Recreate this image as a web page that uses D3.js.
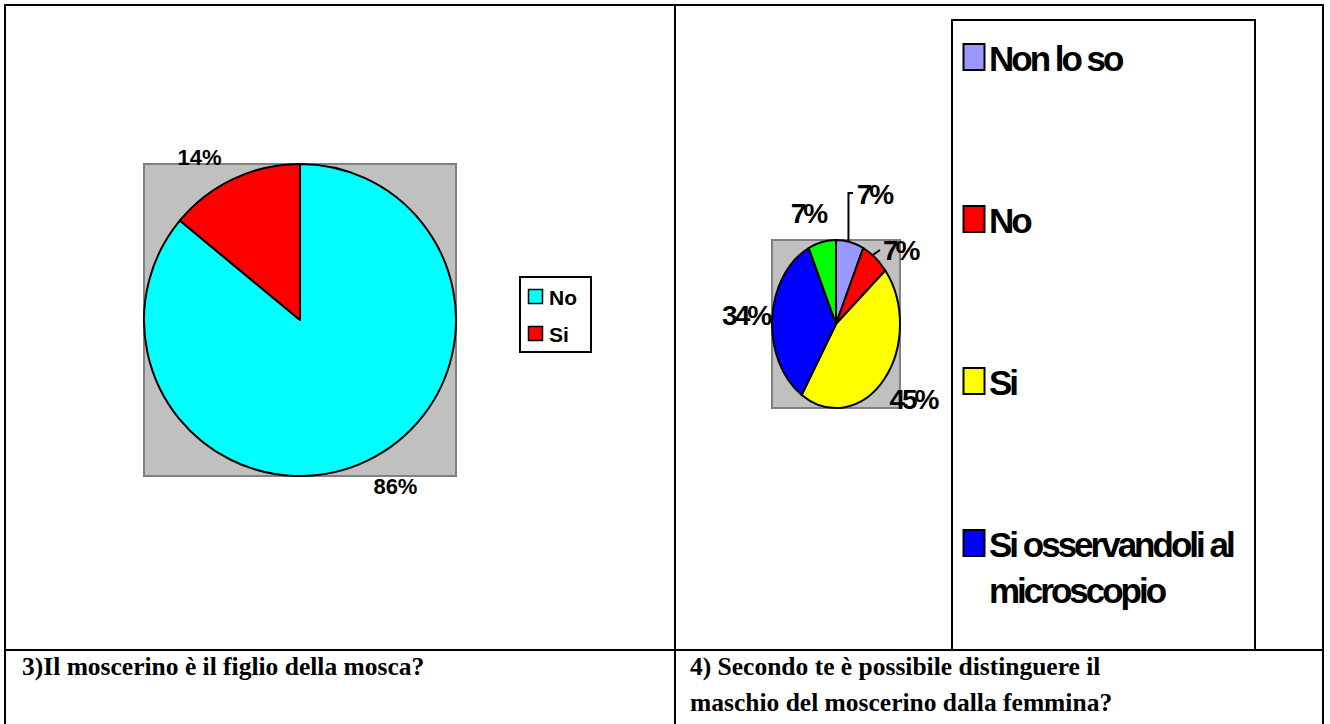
<!DOCTYPE html>
<html>
<head>
<meta charset="utf-8">
<script src="https://cdn.jsdelivr.net/npm/d3@7"></script>
<style>
  html, body { margin: 0; padding: 0; background: #fff; }
  svg { display: block; }
</style>
</head>
<body>
<svg id="chart" width="1330" height="724"></svg>
<script>
// ---------------- DATA ----------------
const q3Categories = ["No", "Si"];
const q3Values = [86, 14];
const q3Colors = ["#00FFFF", "#FF0000"];
const q3Caption = ["3)Il moscerino è il figlio della mosca?"];

const q4Categories = ["Non lo so", "No", "Si", "Si osservandoli al microscopio", ""];
const q4LegendLines = [["Non lo so"], ["No"], ["Si"], ["Si osservandoli al", "microscopio"]];
const q4Values = [7, 7, 45, 34, 7];
const q4Colors = ["#9999FF", "#FF0000", "#FFFF00", "#0000FF", "#00FF00"];
const q4Caption = ["4) Secondo te è possibile distinguere il", "maschio del moscerino dalla femmina?"];

// ---------------- LAYOUT ----------------
const svg = d3.select("#chart");
const W = 1330, H = 724;
svg.append("rect").attr("width", W).attr("height", H).attr("fill", "#fff");

const sans = "'Liberation Sans', Arial, sans-serif";
const serif = "'Liberation Serif', 'Times New Roman', serif";

const pie = d3.pie().sort(null).value(d => d);

// ===== Chart 1 =====
const c1 = { cx: 300, cy: 320, r: 156 };
const g1 = svg.append("g");
g1.append("rect")
  .attr("x", c1.cx - c1.r).attr("y", c1.cy - c1.r)
  .attr("width", c1.r * 2).attr("height", c1.r * 2)
  .attr("fill", "#C0C0C0").attr("stroke", "#808080").attr("stroke-width", 2);

const arc1 = d3.arc().innerRadius(0).outerRadius(c1.r);
const arcs1 = pie(q3Values);
g1.append("g").attr("transform", `translate(${c1.cx},${c1.cy})`)
  .selectAll("path").data(arcs1).join("path")
  .attr("d", arc1)
  .attr("fill", (d, i) => q3Colors[i])
  .attr("stroke", "#000").attr("stroke-width", 2).attr("stroke-linejoin", "round");

// label anchors (relative offsets from the slice's outer mid point)
const c1LabelOffsets = [[29, 33], [-34, -14]];
const labArc1 = d3.arc().innerRadius(c1.r).outerRadius(c1.r);
g1.selectAll("text.lab").data(arcs1).join("text")
  .attr("class", "lab")
  .attr("x", (d, i) => c1.cx + labArc1.centroid(d)[0] + c1LabelOffsets[i][0])
  .attr("y", (d, i) => c1.cy + labArc1.centroid(d)[1] + c1LabelOffsets[i][1])
  .attr("text-anchor", "middle")
  .attr("font-family", sans).attr("font-weight", "bold").attr("font-size", 22)
  .text(d => d.data + "%");

// legend 1
const lg1 = svg.append("g");
lg1.append("rect").attr("x", 520).attr("y", 277).attr("width", 71).attr("height", 75)
  .attr("fill", "#fff").attr("stroke", "#000").attr("stroke-width", 2);
q3Categories.forEach((c, i) => {
  const by = 305 + i * 37;
  lg1.append("rect").attr("x", 528.5).attr("y", by - 15.5).attr("width", 14).attr("height", 14)
    .attr("fill", q3Colors[i]).attr("stroke", "#000").attr("stroke-width", 1.5);
  lg1.append("text").attr("x", 549).attr("y", by)
    .attr("font-family", sans).attr("font-weight", "bold").attr("font-size", 21)
    .text(c);
});

// ===== Chart 2 =====
const c2 = { cx: 836, cy: 324, rx: 64, ry: 84 };
const g2 = svg.append("g");
g2.append("rect")
  .attr("x", c2.cx - c2.rx).attr("y", c2.cy - c2.ry)
  .attr("width", c2.rx * 2).attr("height", c2.ry * 2)
  .attr("fill", "#C0C0C0").attr("stroke", "#808080").attr("stroke-width", 2);

const arc2 = d3.arc().innerRadius(0).outerRadius(c2.ry);
const arcs2 = pie(q4Values);
g2.append("g").attr("transform", `translate(${c2.cx},${c2.cy}) scale(${c2.rx / c2.ry},1)`)
  .selectAll("path").data(arcs2).join("path")
  .attr("d", arc2)
  .attr("fill", (d, i) => q4Colors[i])
  .attr("stroke", "#000").attr("stroke-width", 2).attr("stroke-linejoin", "round")
  .attr("vector-effect", "non-scaling-stroke");

// point on ellipse edge at the slice mid angle
function edgePoint(d) {
  const a = (d.startAngle + d.endAngle) / 2;
  return [c2.cx + c2.rx * Math.sin(a), c2.cy - c2.ry * Math.cos(a)];
}
// label positions relative to edge point
const c2LabelOffsets = [[24, -38], [25, 2.5], [29, 29], [-26.5, 6.5], [-14, -19]];
arcs2.forEach((d, i) => {
  const p = edgePoint(d);
  const lx = p[0] + c2LabelOffsets[i][0];
  const ly = p[1] + c2LabelOffsets[i][1];
  g2.append("text").attr("x", lx).attr("y", ly)
    .attr("text-anchor", "middle")
    .attr("font-family", sans).attr("font-weight", "bold").attr("font-size", 28)
    .attr("letter-spacing", -3)
    .text(d.data + "%");
});
// leader lines for the two small slices
{
  const p0 = edgePoint(arcs2[0]);
  g2.append("path")
    .attr("d", `M${p0[0] - 1.5},${p0[1]} V${193} H${853}`)
    .attr("fill", "none").attr("stroke", "#000").attr("stroke-width", 2);
  const p1 = edgePoint(arcs2[1]);
  g2.append("path")
    .attr("d", `M${p1[0] - 2},${p1[1] - 3} L${880},${250}`)
    .attr("fill", "none").attr("stroke", "#000").attr("stroke-width", 2);
}

// legend 2 (clipped by the table cell)
svg.append("clipPath").attr("id", "cell2").append("rect")
  .attr("x", 676).attr("y", 6).attr("width", 646).attr("height", 643);
const lg2 = svg.append("g").attr("clip-path", "url(#cell2)");
lg2.append("rect").attr("x", 952).attr("y", 20).attr("width", 303).attr("height", 700)
  .attr("fill", "#fff").attr("stroke", "#000").attr("stroke-width", 2);
q4LegendLines.forEach((lines, i) => {
  const by = 71 + i * 162;
  lg2.append("rect").attr("x", 963.5).attr("y", by - 27).attr("width", 21).attr("height", 26)
    .attr("fill", q4Colors[i]).attr("stroke", "#000").attr("stroke-width", 2);
  lines.forEach((t, j) => {
    lg2.append("text").attr("x", 989).attr("y", by + j * 46)
      .attr("font-family", sans).attr("font-weight", "bold").attr("font-size", 35)
      .attr("letter-spacing", -3)
      .text(t);
  });
});

// ===== Table grid =====
const grid = svg.append("g").attr("stroke", "#000").attr("stroke-width", 2).attr("fill", "none");
grid.append("path").attr("d", `M5,${H} V5 H1323 V${H}`);
grid.append("line").attr("x1", 675).attr("x2", 675).attr("y1", 5).attr("y2", H);
grid.append("line").attr("x1", 5).attr("x2", 1323).attr("y1", 650).attr("y2", 650);

// ===== Captions =====
q3Caption.forEach((t, j) => {
  svg.append("text").attr("x", 22).attr("y", 675 + j * 36)
    .attr("font-family", serif).attr("font-weight", "bold").attr("font-size", 25.5)
    .text(t);
});
q4Caption.forEach((t, j) => {
  svg.append("text").attr("x", 690).attr("y", 675 + j * 36)
    .attr("font-family", serif).attr("font-weight", "bold").attr("font-size", 25.5)
    .text(t);
});
</script>
</body>
</html>
